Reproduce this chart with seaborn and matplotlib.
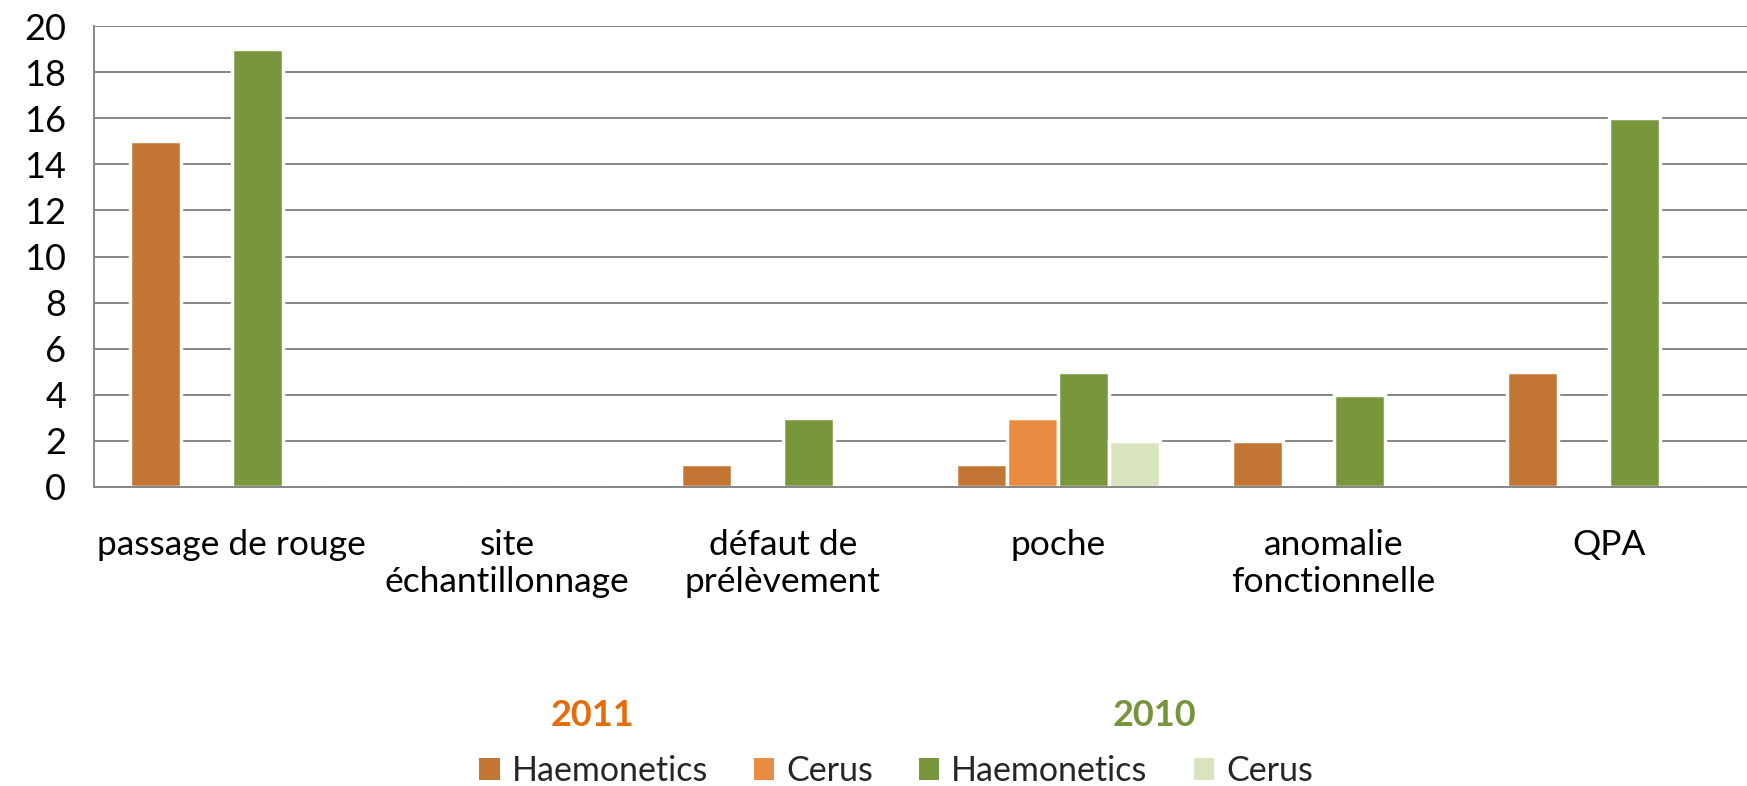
import numpy as np
import pandas as pd
import seaborn as sns
import matplotlib.pyplot as plt
from matplotlib.ticker import FixedLocator

categories = ["passage de rouge", "site\néchantillonnage", "défaut de\nprélèvement",
              "poche", "anomalie\nfonctionnelle", "QPA"]
haem_2011 = [15, 0, 1, 1, 2, 5]
cerus_2011 = [0, 0, 0, 3, 0, 0]
haem_2010 = [19, 0, 3, 5, 4, 16]
cerus_2010 = [0, 0, 0, 2, 0, 0]
series = ["Haemonetics 2011", "Cerus 2011", "Haemonetics 2010", "Cerus 2010"]
legend_labels = ["Haemonetics", "Cerus", "Haemonetics", "Cerus"]
colors = ["#C37534", "#E98C41", "#78963B", "#D8E4BE"]

df = pd.DataFrame({
    "cat": categories * 4,
    "serie": np.repeat(series, len(categories)),
    "val": haem_2011 + cerus_2011 + haem_2010 + cerus_2010,
})

sns.set_style("white")
plt.rcParams['font.family'] = ['Lato', 'DejaVu Sans']

fig = plt.figure(figsize=(17.47, 7.86), dpi=100)
ax = fig.add_axes([94/1747, 1-487/786, 1-94/1747, (487-26)/786])

sns.barplot(data=df, x="cat", y="val", hue="serie", palette=colors, width=0.74,
            saturation=1, edgecolor="white", linewidth=2.5, ax=ax, legend=False)

grey = "#868686"
ax.set_ylim(0, 20)
ax.set_xlim(-0.5, 5.5)
ax.set_yticks(range(0, 21, 2))
ax.yaxis.grid(True, color=grey, linewidth=1.4)
ax.set_axisbelow(True)
for s in ["top", "right"]:
    ax.spines[s].set_visible(False)
for s in ["left", "bottom"]:
    ax.spines[s].set_color(grey)
    ax.spines[s].set_linewidth(1.4)
ax.tick_params(axis="y", length=12, width=1.4, color=grey, labelsize=26, pad=8, labelcolor="black")
ax.tick_params(axis="x", which="major", length=0, labelsize=25.5, pad=30, labelcolor="black")
ax.xaxis.set_minor_locator(FixedLocator(np.arange(-0.5, 6, 1)))
ax.tick_params(axis="x", which="minor", length=12, width=1.4, color=grey)
ax.set_xlabel("")
ax.set_ylabel("")

fig.text(593/1747, 1-716/786, "2011", color="#E46C0A", fontsize=26, fontweight="bold",
         ha="center", va="center")
fig.text(1154/1747, 1-716/786, "2010", color="#77933C", fontsize=26, fontweight="bold",
         ha="center", va="center")

handles = [ax.containers[i].patches[0] for i in range(4)]
leg = fig.legend(handles, legend_labels, loc="center", bbox_to_anchor=(896/1747, 1-771/786),
                 ncol=4, frameon=False, fontsize=24.5, handlelength=0.6, handleheight=0.6,
                 handletextpad=0.35, columnspacing=1.35, borderpad=0)
for h in leg.legend_handles:
    h.set_edgecolor("none")

fig.savefig("out.png", dpi=100)
